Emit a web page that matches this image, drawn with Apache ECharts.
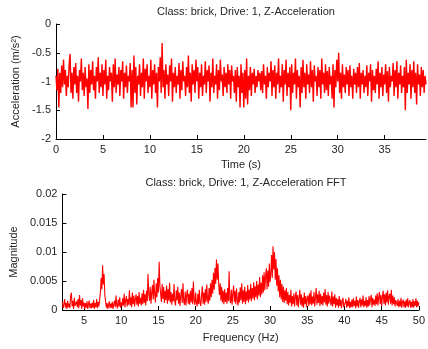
<!DOCTYPE html>
<html><head><meta charset="utf-8">
<script src="https://cdn.jsdelivr.net/npm/echarts@6/dist/echarts.min.js"></script>
<style>html,body{margin:0;padding:0;background:#fff}#c{width:428px;height:349px}</style>
</head><body><div id="c"></div>
<script>
// Z-acceleration samples (m/s^2), one every 0.1 s starting at t = 0
const accDt = 0.1;
const acc = [
-0.9,-1.15,-0.78,-1.45,-0.85,-1.2,-0.72,-1.1,-0.62,-1.05,
-0.8,-1.25,-0.9,-1.1,-0.7,-0.52,-1.2,-0.85,-1.3,-0.75,
-1.05,-0.68,-1.2,-0.9,-1.35,-0.8,-1.0,-0.6,-1.15,-0.85,
-1.25,-0.75,-1.1,-0.95,-1.48,-0.7,-1.2,-0.8,-1.05,-0.65,
-1.15,-0.9,-1.3,-0.75,-1.0,-0.58,-1.2,-0.85,-1.1,-0.7,
-1.25,-0.8,-1.05,-0.62,-1.3,-0.9,-1.15,-0.75,-1.0,-0.85,
-1.35,-0.7,-1.1,-0.6,-1.2,-0.88,-1.05,-0.75,-1.25,-0.8,
-1.0,-0.65,-1.3,-0.85,-1.1,-0.72,-1.2,-0.9,-1.0,-0.68,
-1.45,-0.8,-1.45,-0.55,-1.2,-0.75,-1.4,-0.9,-1.05,-0.7,
-1.25,-0.85,-1.1,-0.6,-1.3,-0.78,-1.0,-0.7,-1.2,-0.9,
-1.1,-0.62,-1.3,-0.8,-1.05,-0.7,-1.2,-0.85,-1.45,-0.75,
-1.0,-0.58,-1.2,-0.33,-1.1,-0.8,-1.3,-0.7,-1.05,-0.88,
-1.25,-0.72,-1.0,-0.6,-1.35,-0.85,-1.1,-0.75,-1.2,-0.9,
-1.05,-0.68,-1.3,-0.8,-1.15,-0.65,-1.0,-0.9,-1.25,-0.75,
-1.1,-0.55,-1.2,-0.85,-1.35,-0.7,-1.05,-0.8,-1.2,-0.62,
-1.0,-0.75,-1.3,-0.85,-1.1,-0.7,-1.25,-0.9,-1.05,-0.65,
-1.2,-0.8,-1.0,-0.72,-1.35,-0.85,-1.1,-0.6,-1.2,-0.9,
-1.05,-0.7,-1.3,-0.8,-1.15,-0.62,-1.0,-0.88,-1.25,-0.75,
-1.1,-0.85,-1.2,-0.7,-1.05,-0.8,-1.3,-0.72,-1.0,-0.9,
-1.2,-0.8,-1.35,-0.75,-1.1,-0.9,-1.45,-0.7,-1.2,-0.85,
-1.45,-0.8,-1.3,-0.6,-1.4,-0.9,-1.15,-0.75,-1.25,-0.85,
-1.05,-0.78,-1.2,-0.9,-1.1,-0.8,-1.0,-0.85,-1.15,-0.82,
-1.2,-0.7,-1.05,-0.9,-1.3,-0.75,-1.1,-0.85,-1.0,-0.65,
-1.25,-0.8,-1.1,-0.72,-1.3,-0.85,-1.05,-0.6,-1.2,-0.9,
-1.1,-0.7,-1.35,-0.8,-1.05,-0.62,-1.25,-0.85,-1.1,-0.75,
-1.5,-0.7,-1.2,-0.85,-1.05,-0.6,-1.3,-0.8,-1.1,-0.9,
-1.45,-0.75,-1.2,-0.62,-1.1,-0.85,-1.3,-0.7,-1.05,-0.88,
-1.2,-0.65,-1.1,-0.8,-1.35,-0.72,-1.0,-0.9,-1.25,-0.75,
-1.1,-0.8,-1.3,-0.6,-1.05,-0.85,-1.2,-0.7,-1.15,-0.82,
-1.25,-0.75,-1.05,-0.9,-1.3,-0.7,-1.45,-0.8,-1.1,-0.62,
-1.0,-0.5,-1.2,-0.85,-1.3,-0.7,-1.1,-0.88,-1.2,-0.75,
-1.05,-0.8,-1.25,-0.72,-1.1,-0.9,-1.3,-0.78,-1.05,-0.85,
-1.2,-0.75,-1.1,-0.68,-1.3,-0.85,-1.05,-0.8,-1.2,-0.9,
-1.1,-0.72,-1.25,-0.85,-1.0,-0.7,-1.35,-0.8,-1.15,-0.9,
-1.2,-0.78,-1.05,-0.65,-1.3,-0.85,-1.1,-0.75,-1.25,-0.88,
-1.05,-0.7,-1.2,-0.82,-1.35,-0.75,-1.1,-0.9,-1.0,-0.68,
-1.25,-0.8,-1.1,-0.65,-1.3,-0.85,-1.05,-0.72,-1.2,-0.9,
-1.1,-0.75,-1.5,-0.62,-1.2,-0.85,-1.05,-0.7,-1.3,-0.8,
-1.1,-0.65,-1.2,-0.85,-1.4,-0.7,-1.05,-0.88,-1.25,-0.75,
-1.1,-0.8,-1.2,-0.9,-1.05
];
// FFT magnitude, one bin every 0.1 Hz starting at 2.1 Hz (one row per Hz)
const fftF0 = 2.1, fftDf = 0.1;
const fftMag = [
0.0014,0.0003,0.0010,0.0019,0.0004,0.0012,0.0002,0.0016,0.0005,0.0011,
0.0003,0.0024,0.0030,0.0006,0.0016,0.0002,0.0021,0.0007,0.0004,0.0015,
0.0005,0.0019,0.0003,0.0026,0.0008,0.0017,0.0002,0.0020,0.0006,0.0013,
0.0002,0.0012,0.0004,0.0015,0.0002,0.0010,0.0016,0.0003,0.0011,0.0003,
0.0013,0.0004,0.0017,0.0002,0.0012,0.0005,0.0019,0.0003,0.0014,0.0006,
0.0018,0.0030,0.0055,0.0036,0.0077,0.0044,0.0062,0.0025,0.0015,0.0004,
0.0012,0.0002,0.0009,0.0015,0.0003,0.0011,0.0004,0.0014,0.0002,0.0010,
0.0016,0.0005,0.0025,0.0008,0.0003,0.0018,0.0006,0.0022,0.0004,0.0013,
0.0006,0.0020,0.0008,0.0028,0.0005,0.0017,0.0024,0.0006,0.0019,0.0009,
0.0034,0.0008,0.0022,0.0005,0.0030,0.0010,0.0025,0.0006,0.0018,0.0027,
0.0009,0.0024,0.0006,0.0031,0.0011,0.0021,0.0008,0.0029,0.0010,0.0035,
0.0012,0.0027,0.0008,0.0033,0.0015,0.0062,0.0028,0.0016,0.0040,0.0011,
0.0030,0.0043,0.0018,0.0052,0.0026,0.0013,0.0046,0.0022,0.0055,0.0030,
0.0083,0.0042,0.0028,0.0014,0.0045,0.0019,0.0040,0.0012,0.0033,0.0017,
0.0042,0.0011,0.0036,0.0016,0.0047,0.0013,0.0031,0.0009,0.0028,0.0015,
0.0045,0.0014,0.0008,0.0034,0.0017,0.0040,0.0011,0.0030,0.0007,0.0025,
0.0036,0.0012,0.0046,0.0015,0.0009,0.0032,0.0008,0.0027,0.0035,0.0011,
0.0028,0.0009,0.0033,0.0013,0.0038,0.0010,0.0049,0.0016,0.0009,0.0030,
0.0013,0.0006,0.0028,0.0010,0.0035,0.0012,0.0007,0.0026,0.0041,0.0011,
0.0030,0.0009,0.0036,0.0014,0.0044,0.0018,0.0011,0.0038,0.0016,0.0046,
0.0022,0.0052,0.0028,0.0064,0.0035,0.0073,0.0045,0.0087,0.0052,0.0080,
0.0045,0.0026,0.0046,0.0016,0.0040,0.0013,0.0033,0.0010,0.0036,0.0014,
0.0030,0.0011,0.0038,0.0015,0.0067,0.0018,0.0012,0.0035,0.0009,0.0029,
0.0042,0.0014,0.0033,0.0010,0.0037,0.0016,0.0008,0.0031,0.0013,0.0039,
0.0017,0.0046,0.0011,0.0034,0.0014,0.0040,0.0010,0.0032,0.0016,0.0043,
0.0013,0.0035,0.0018,0.0045,0.0015,0.0038,0.0020,0.0048,0.0017,0.0041,
0.0022,0.0050,0.0018,0.0044,0.0025,0.0057,0.0022,0.0047,0.0027,0.0060,
0.0030,0.0065,0.0034,0.0058,0.0072,0.0036,0.0068,0.0040,0.0080,0.0048,
0.0062,0.0095,0.0055,0.0110,0.0070,0.0100,0.0052,0.0088,0.0042,0.0072,
0.0032,0.0060,0.0022,0.0052,0.0018,0.0045,0.0014,0.0040,0.0012,0.0034,
0.0016,0.0038,0.0010,0.0031,0.0008,0.0026,0.0012,0.0035,0.0006,0.0024,
0.0010,0.0029,0.0006,0.0023,0.0032,0.0008,0.0026,0.0005,0.0021,0.0035,
0.0009,0.0027,0.0006,0.0022,0.0004,0.0030,0.0010,0.0024,0.0005,0.0020,
0.0025,0.0007,0.0029,0.0010,0.0034,0.0008,0.0023,0.0011,0.0031,0.0006,
0.0022,0.0038,0.0009,0.0027,0.0012,0.0033,0.0007,0.0028,0.0010,0.0024,
0.0008,0.0030,0.0013,0.0036,0.0009,0.0026,0.0006,0.0031,0.0011,0.0025,
0.0028,0.0008,0.0032,0.0006,0.0023,0.0010,0.0027,0.0004,0.0021,0.0008,
0.0019,0.0004,0.0024,0.0007,0.0018,0.0003,0.0015,0.0021,0.0005,0.0003,
0.0013,0.0019,0.0004,0.0016,0.0006,0.0022,0.0003,0.0014,0.0005,0.0018,
0.0005,0.0020,0.0007,0.0016,0.0003,0.0023,0.0006,0.0017,0.0004,0.0015,
0.0021,0.0005,0.0018,0.0008,0.0025,0.0005,0.0016,0.0007,0.0022,0.0004,
0.0017,0.0006,0.0024,0.0008,0.0019,0.0026,0.0005,0.0021,0.0009,0.0018,
0.0007,0.0025,0.0010,0.0029,0.0008,0.0022,0.0031,0.0010,0.0026,0.0007,
0.0023,0.0033,0.0011,0.0027,0.0008,0.0030,0.0013,0.0034,0.0009,0.0024,
0.0028,0.0011,0.0035,0.0008,0.0025,0.0010,0.0022,0.0006,0.0017,0.0020,
0.0007,0.0019,0.0005,0.0016,0.0006,0.0021,0.0004,0.0014,0.0018,0.0005,
0.0015,0.0004,0.0018,0.0006,0.0020,0.0005,0.0013,0.0017,0.0004,0.0014,
0.0005,0.0019,0.0004,0.0015,0.0007,0.0020,0.0005,0.0016,0.0006,0.0013
];
const timeTicks = [0,5,10,15,20,25,30,35];
const accTicks = [-2,-1.5,-1,-0.5,0];
const freqTicks = [5,10,15,20,25,30,35,40,45,50];
const magTicks = [0,0.005,0.01,0.015,0.02];
const titles = ['Class: brick, Drive: 1, Z-Acceleration','Class: brick, Drive: 1, Z-Acceleration FFT'];

const FONT = 'Liberation Sans, Arial, sans-serif';
const TXT = '#262626';
const accData = acc.map((v,i)=>[i*accDt, v]);
const fftData = fftMag.map((v,i)=>[fftF0 + i*fftDf, v]);

function xAx(idx, min, max, ticks, name, gap){
  return {type:'value', gridIndex:idx, min, max, name, nameLocation:'middle', nameGap:gap,
    nameTextStyle:{fontFamily:FONT,fontSize:11,color:TXT},
    axisLine:{onZero:false,lineStyle:{color:'#000',width:1}},
    axisTick:{inside:true,length:4,customValues:ticks,lineStyle:{color:'#000'}},
    axisLabel:{customValues:ticks,fontFamily:FONT,fontSize:11,color:TXT,margin:5},
    splitLine:{show:false}};
}
function yAx(idx, min, max, ticks, name, gap){
  return {type:'value', gridIndex:idx, min, max, name, nameLocation:'middle', nameGap:gap,
    nameTextStyle:{fontFamily:FONT,fontSize:11,color:TXT},
    axisLine:{show:true,onZero:false,lineStyle:{color:'#000',width:1}},
    axisTick:{show:true,inside:true,length:4,customValues:ticks,lineStyle:{color:'#000'}},
    axisLabel:{customValues:ticks,fontFamily:FONT,fontSize:11,color:TXT,margin:5},
    splitLine:{show:false}};
}
const chart = echarts.init(document.getElementById('c'), null, {renderer:'canvas'});
chart.setOption({
  animation:false,
  title:[
    {text:titles[0], left:241, top:1, textAlign:'center', textStyle:{fontFamily:FONT,fontSize:11,fontWeight:'normal',color:TXT}},
    {text:titles[1], left:241, top:172, textAlign:'center', textStyle:{fontFamily:FONT,fontSize:11,fontWeight:'normal',color:TXT}}
  ],
  grid:[
    {left:56, top:24, width:370, height:115},
    {left:56, top:194, width:369, height:116}
  ],
  xAxis:[
    xAx(0, 0, 39.4, timeTicks, 'Time (s)', 20),
    xAx(1, fftF0, 50, freqTicks, 'Frequency (Hz)', 22)
  ],
  yAxis:[
    yAx(0, -2, 0, accTicks, 'Acceleration (m/s²)', 32),
    yAx(1, 0, 0.02, magTicks, 'Magnitude', 36)
  ],
  series:[
    {type:'line', xAxisIndex:0, yAxisIndex:0, data:accData, showSymbol:false, lineStyle:{color:'#ff0000',width:1.4}, itemStyle:{color:'#ff0000'}},
    {type:'line', xAxisIndex:1, yAxisIndex:1, data:fftData, showSymbol:false, lineStyle:{color:'#ff0000',width:1.1}, itemStyle:{color:'#ff0000'}}
  ]
});
</script></body></html>
